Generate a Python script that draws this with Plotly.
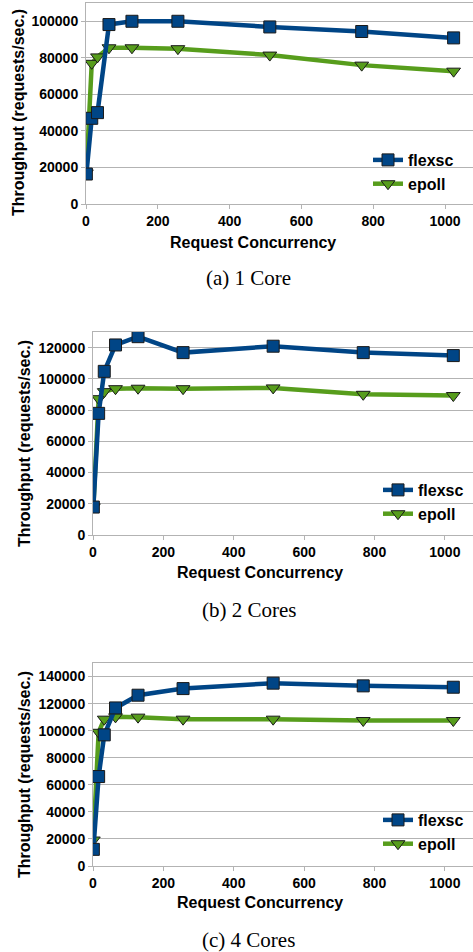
import plotly.graph_objects as go

concurrency = [1, 16, 32, 64, 128, 256, 512, 768, 1024]

flexsc_1core = [16400, 46900, 50000, 98200, 100000, 100000, 96900, 94400, 90900]
epoll_1core = [17000, 77000, 80500, 85500, 85500, 85000, 81500, 76000, 72700]

flexsc_2core = [17900, 77900, 104800, 121700, 127000, 116800, 120900, 116800, 114900]
epoll_2core = [18000, 87300, 91800, 93700, 94000, 93700, 94200, 90100, 89300]

flexsc_4core = [12300, 66100, 96900, 116800, 126200, 131100, 135100, 133100, 132100]
epoll_4core = [19200, 98800, 108500, 110200, 110000, 108500, 108500, 107500, 107500]

captions = ["(a) 1 Core", "(b) 2 Cores", "(c) 4 Cores"]
y_tick_max = [100000, 120000, 140000]
y_range_max = [110000, 130000, 150000]

W, H = 473, 952
BLUE = "#004586"
GREEN = "#579d1c"
GRID = "#b3b3b3"
SANS = "Liberation Sans"
SERIF = "Liberation Serif"

# pixel layout per panel
panels = [
    dict(left=86, top=3, bottom=204, xmax=1078, legx=368, legy=172,
         ytitle=(18, 113), xtitle=(253, 242), cap=(248, 278)),
    dict(left=93, top=332, bottom=535, xmax=1080, legx=378, legy=502,
         ytitle=(24, 444), xtitle=(260, 572), cap=(249, 610)),
    dict(left=93, top=663, bottom=866, xmax=1080, legx=378, legy=832,
         ytitle=(24, 775), xtitle=(260, 902), cap=(248, 940)),
]

data = [(flexsc_1core, epoll_1core), (flexsc_2core, epoll_2core), (flexsc_4core, epoll_4core)]

fig = go.Figure()
annotations = []
layout = {}
for i, (p, (fl, ep)) in enumerate(zip(panels, data)):
    n = "" if i == 0 else str(i + 1)
    xa, ya = "x" + n, "y" + n
    leg = "legend" + n
    fig.add_trace(go.Scatter(
        x=concurrency, y=ep, name="epoll", mode="lines+markers",
        line=dict(color=GREEN, width=4.5),
        marker=dict(symbol="triangle-down", size=12, color=GREEN,
                    line=dict(color="#1a1a1a", width=1)),
        xaxis=xa, yaxis=ya, legend=leg, legendrank=2))
    fig.add_trace(go.Scatter(
        x=concurrency, y=fl, name="flexsc", mode="lines+markers",
        line=dict(color=BLUE, width=4.5),
        marker=dict(symbol="square", size=12, color=BLUE,
                    line=dict(color="#1a1a1a", width=1)),
        xaxis=xa, yaxis=ya, legend=leg, legendrank=1))
    tickfont = dict(family=SANS, size=14, color="#000", weight="bold")
    layout["xaxis" + n] = dict(
        domain=[p["left"] / W, 1], range=[0, p["xmax"]], anchor=ya, automargin=False,
        tickvals=[0, 200, 400, 600, 800, 1000], ticks="outside", ticklen=4,
        tickcolor=GRID, showline=True, linecolor=GRID, linewidth=1, mirror=True,
        showgrid=False, zeroline=False, tickfont=tickfont)
    layout["yaxis" + n] = dict(
        domain=[1 - p["bottom"] / H, 1 - p["top"] / H], range=[0, y_range_max[i]],
        anchor=xa, automargin=False, tickvals=list(range(0, y_tick_max[i] + 1, 20000)),
        tickformat="d", ticks="outside", ticklen=4, tickcolor=GRID, showline=True,
        linecolor=GRID, linewidth=1, showgrid=True, gridcolor=GRID, gridwidth=1,
        zeroline=False, tickfont=tickfont)
    layout[leg] = dict(
        x=p["legx"] / W, y=1 - p["legy"] / H, xanchor="left", yanchor="middle",
        bgcolor="rgba(0,0,0,0)", font=dict(family=SANS, size=16, color="#000", weight="bold"),
        tracegroupgap=0, itemwidth=30)
    annotations.append(dict(
        x=p["ytitle"][0] / W, y=1 - p["ytitle"][1] / H, xref="paper", yref="paper",
        text="<b>Throughput (requests/sec.)</b>", textangle=-90, showarrow=False,
        font=dict(family=SANS, size=16, color="#000"), xanchor="center", yanchor="middle"))
    annotations.append(dict(
        x=p["xtitle"][0] / W, y=1 - p["xtitle"][1] / H, xref="paper", yref="paper",
        text="<b>Request Concurrency</b>", showarrow=False,
        font=dict(family=SANS, size=16, color="#000"), xanchor="center", yanchor="middle"))
    annotations.append(dict(
        x=p["cap"][0] / W, y=1 - p["cap"][1] / H, xref="paper", yref="paper",
        text=captions[i], showarrow=False,
        font=dict(family=SERIF, size=21, color="#000"), xanchor="center", yanchor="middle"))

fig.update_layout(
    width=W, height=H, margin=dict(l=0, r=0, t=0, b=0),
    paper_bgcolor="white", plot_bgcolor="white", showlegend=True,
    annotations=annotations, **layout)

fig.write_html("out.html", config={"displayModeBar": False},
               post_script="document.body.style.margin='0';document.body.style.overflow='hidden';")
